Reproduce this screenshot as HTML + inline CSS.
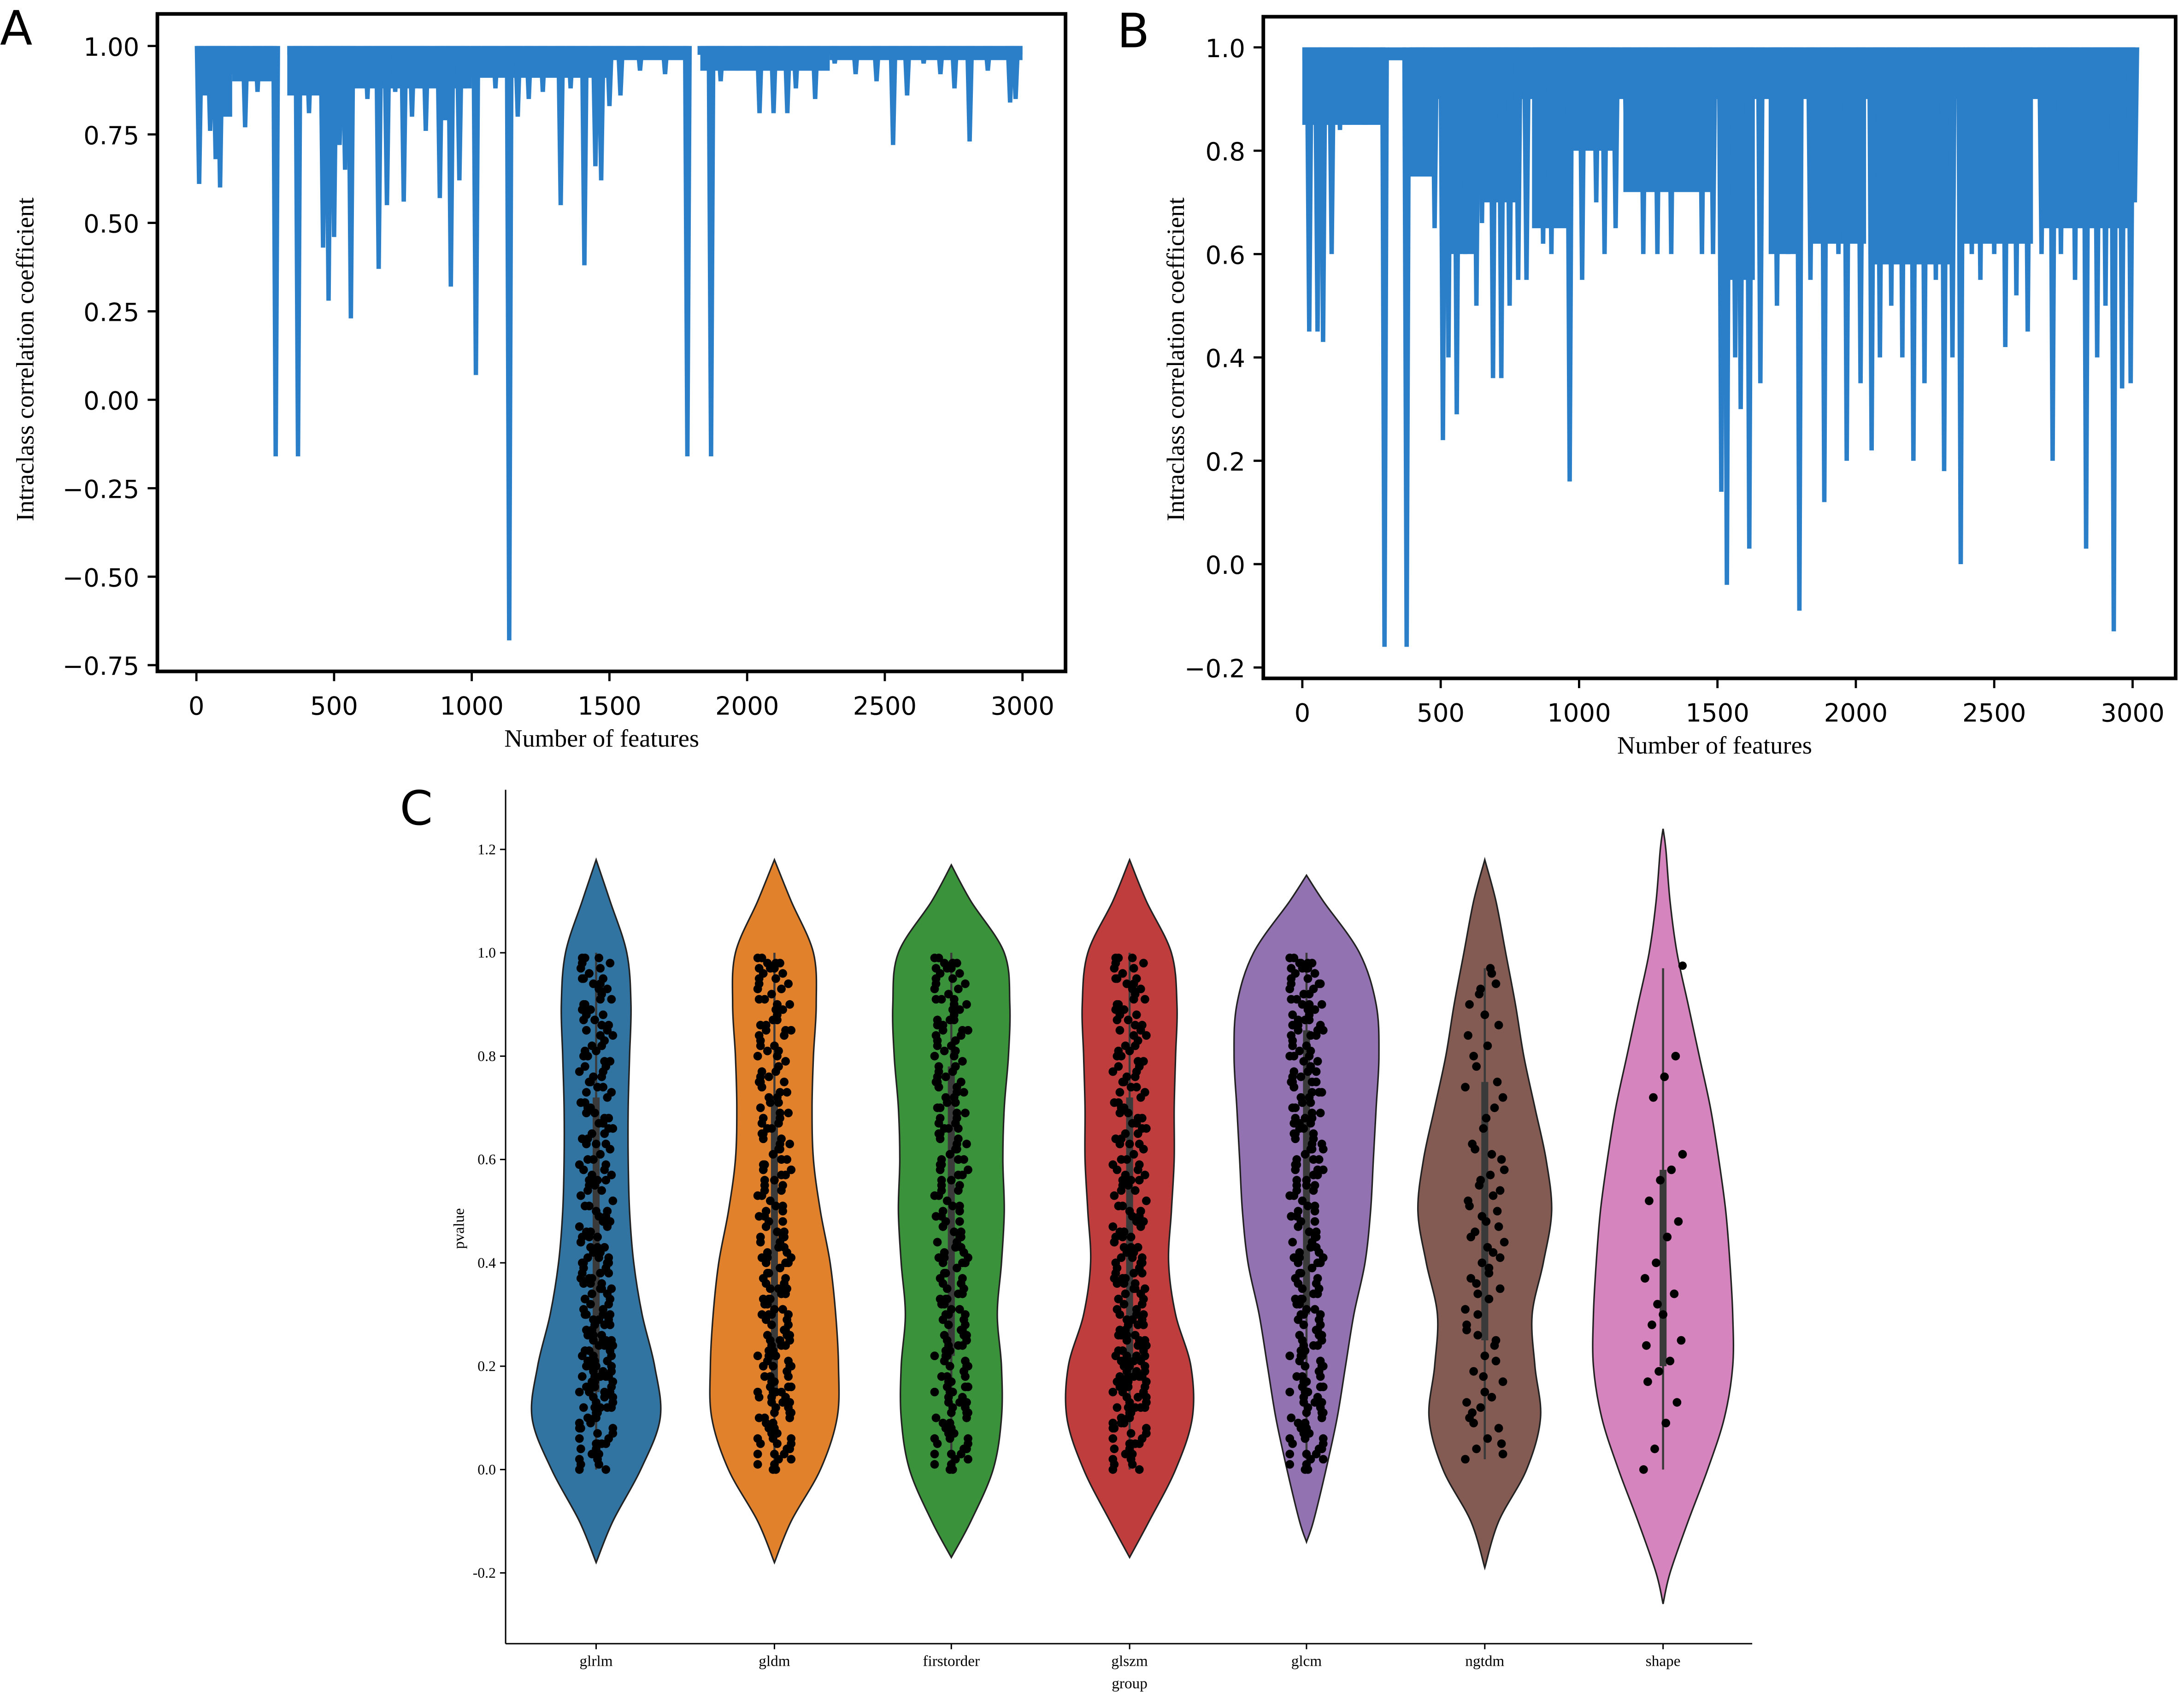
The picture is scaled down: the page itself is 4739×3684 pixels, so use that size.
<!DOCTYPE html>
<html><head><meta charset="utf-8"><style>
html,body{margin:0;padding:0;background:#fff;}
svg{display:block;}
.tk{font-family:"DejaVu Sans","Liberation Sans",sans-serif;font-size:18px;fill:#000;}
.sr{font-family:"Liberation Serif",serif;fill:#000;}
</style></head><body>
<svg id="fig" xmlns="http://www.w3.org/2000/svg" width="4739" height="3684" viewBox="0 0 1568 1219" preserveAspectRatio="none">
<rect x="0" y="0" width="1568" height="1219" fill="#fff"/>
<g id="pA"></g>
<g id="pB"></g>
<g id="pC"></g>
<text x="0" y="32" class="tk" style="font-size:34px">A</text>
<text x="802" y="34" class="tk" style="font-size:34px">B</text>
<text x="287" y="592" class="tk" style="font-size:34px">C</text>
</svg>
<script>
// ---------- Panel A data ----------
const aBandStart=[0,330,1820];
const aBandEnd=[292,1790,3000];
const aRegStart=[0,60,130,330,560,1000,1500,1830,2300];
const aRegEnd=[60,130,280,560,1000,1500,1780,2300,3000];
const aRegVal=[0.86,0.8,0.9,0.86,0.88,0.91,0.96,0.93,0.96];
const aSpikeF=[10,50,70,86,126,177,222,258,288,369,409,460,480,500,520,540,561,621,662,692,722,753,783,813,833,884,904,924,955,975,1015,1056,1086,1136,1167,1207,1258,1323,1359,1409,1449,1470,1500,1540,1611,1702,1783,1869,1904,1965,2045,2096,2146,2177,2247,2318,2394,2470,2530,2581,2641,2702,2753,2808,2874,2955,2975];
const aSpikeV=[0.61,0.76,0.68,0.6,0.92,0.77,0.87,0.9,-0.16,-0.16,0.81,0.43,0.28,0.46,0.72,0.65,0.23,0.85,0.37,0.55,0.87,0.56,0.8,0.88,0.76,0.57,0.79,0.32,0.62,0.88,0.07,0.92,0.88,-0.68,0.8,0.85,0.87,0.55,0.88,0.38,0.66,0.62,0.83,0.86,0.93,0.92,-0.16,-0.16,0.9,0.93,0.81,0.81,0.81,0.88,0.85,0.95,0.92,0.9,0.72,0.86,0.95,0.92,0.88,0.73,0.93,0.84,0.85];
const aYTicks=[1.0,0.75,0.5,0.25,0.0,-0.25,-0.5,-0.75];
const aYLabels=["1.00","0.75","0.50","0.25","0.00","−0.25","−0.50","−0.75"];
const xTicks=[0,500,1000,1500,2000,2500,3000];
// ---------- Panel B data ----------
const bBandStart=[0,310,390];
const bBandEnd=[300,375,3010];
const bRegStart=[0,390,385,528,650,830,980,1160,1510,1685,1836,2062,2390,2665];
const bRegEnd=[300,3010,470,630,780,955,1130,1480,1635,1785,2037,2340,2640,2990];
const bRegVal=[0.85,0.9,0.75,0.6,0.7,0.65,0.8,0.72,0.55,0.6,0.62,0.58,0.62,0.65];
const bSpikeF=[25,55,75,106,136,166,226,297,377,428,478,508,528,558,589,629,649,689,719,749,780,810,850,870,900,931,966,1011,1062,1092,1132,1172,1232,1283,1333,1383,1444,1484,1514,1534,1564,1584,1615,1655,1715,1755,1796,1836,1886,1937,1967,2017,2057,2087,2128,2168,2208,2248,2289,2319,2349,2379,2419,2450,2500,2540,2580,2621,2671,2711,2741,2792,2832,2872,2902,2932,2962,2993,3008];
const bSpikeV=[0.45,0.45,0.43,0.6,0.84,0.85,0.85,-0.16,-0.16,0.9,0.65,0.24,0.4,0.29,0.6,0.5,0.66,0.36,0.36,0.5,0.55,0.55,0.66,0.62,0.6,0.66,0.16,0.55,0.7,0.6,0.65,0.75,0.6,0.6,0.6,0.75,0.6,0.6,0.14,-0.04,0.4,0.3,0.03,0.35,0.5,0.6,-0.09,0.55,0.12,0.6,0.2,0.35,0.22,0.4,0.5,0.4,0.2,0.35,0.55,0.18,0.4,0.0,0.6,0.55,0.6,0.42,0.52,0.45,0.6,0.2,0.6,0.55,0.03,0.4,0.5,-0.13,0.34,0.35,0.7];
const bYTicks=[1.0,0.8,0.6,0.4,0.2,0.0,-0.2];
const bYLabels=["1.0","0.8","0.6","0.4","0.2","0.0","−0.2"];
// ---------- Panel C data ----------
const groups=["glrlm","gldm","firstorder","glszm","glcm","ngtdm","shape"];
const colors=["#3274a1","#e1812c","#3a923a","#c03d3e","#9372b2","#845b53","#d684bd"];
const levels=[-0.2,-0.1,0,0.1,0.2,0.3,0.4,0.5,0.6,0.7,0.8,0.9,1.0,1.1,1.2];
const lowEnd=[-0.18,-0.18,-0.17,-0.17,-0.14,-0.19,-0.26];
const highEnd=[1.18,1.18,1.17,1.18,1.15,1.18,1.24];
const halfGlrlm=[0,12,32,46,42,33,27,24,23,23,24,25,22,10,0];
const halfGldm=[0,12,33,45,46,44,40,33,28,27,28,30,28,12,0];
const halfFirst=[0,14,30,36,36,33,36,38,37,38,41,42,38,14,0];
const halfGlszm=[0,14,33,45,44,33,28,30,32,32,33,34,30,12,0];
const halfGlcm=[0,5,14,22,28,34,42,46,48,50,52,50,38,12,0];
const halfNgtdm=[0,10,30,40,36,34,42,48,44,36,28,22,15,8,0];
const halfShape=[5,18,32,44,50,50,48,45,40,34,26,18,10,5,2];
const base1="02 05 08 10 12 14 15 17 18 20 21 23 25 26 28 30 31 33 35 36 38 40 42 44 45 47 50 52 55 57 60 62 65 68 70 72 75 78 80 83 85 88 90 92 95 97 99 01 04 07 09 11 13 16 19 22 24 27 29 32 34 37 39 41 43 46 48 51 54 58 61 64 67 71 74 77 81 84 87 91 94 98 03 06 09 12 15 18 21 24 27 30 33 36 39 42 45 49 53 56 59 63 66 69 73 76 79 82 86 89 93 96 00 10 14 16 19 23 26 31 35 38 41 44 02 08 11 13 17 20 25 28 34 40 46 50 56 63 70 79 88 95 99 05 12 18 22 29 37 43";
const base2="01 03 06 09 11 13 16 18 19 22 24 26 27 29 31 32 34 37 39 41 43 44 46 49 51 53 56 58 61 63 66 69 71 73 76 79 81 84 86 89 91 93 96 98 99 02 05 07 10 12 15 17 20 23 25 28 30 33 35 38 40 42 45 47 50 54 57 59 62 65 67 70 72 75 77 80 82 85 87 90 92 94 97 04 08 14 21 27 36 48 55 60 64 68 74 78 83 88 95 00 06 11 16 20 26 30 40 52 60 72 85 98 03 09 13 18 24 33 44 53 62 75 90 97 15 22 31 41";
const base3="00 04 07 12 16 19 23 27 32 36 40 45 49 54 58 63 67 71 76 80 84 89 93 97 02 06 10 14 18 22 26 30 34 38 43 47 51 56 60 65 69 74 78 82 87 91 95 99 01 05 09 13 17 21 25 29 33 37 41 46 50 55 59 64 68 73 77 81 86 90 94 98 03 08 11 15 20 24 28 35 42 48 57 66 75 85 96";
const ptsGlrlm=base1+" "+base3+" 05 10 15 20 25 30 35 40 12 18 24 08";
const ptsGldm=base2+" "+base3+" 10 15 20 25 30 35 45 05 14 22";
const ptsFirst=base2+" "+base3+" 60 66 70 74 78 83 87 91 95 98";
const ptsGlszm=base1+" "+base3+" 05 09 14 18 22 26 12 17 21";
const ptsGlcm=base2+" "+base3+" 60 65 70 75 80 84 88 92 95 97 99 55 62 68 73 79 86 90 94 98 58 67 77 87 96";
const ptsNgtdm="02 04 06 08 10 12 14 17 19 22 25 27 30 33 35 37 40 42 44 46 48 50 52 55 57 60 63 66 70 74 78 82 86 90 93 96 03 09 15 21 28 34 38 41 45 49 53 58 62 68 75 84 92 97 05 11 18 24 31 36 43 47 51 56 61 72 80 88 94 13 26 39 54";
const ptsShape="00 04 09 13 17 19 21 25 28 30 34 37 40 45 48 52 56 58 61 72 76 80 24 32";
const yTicksC=[1.2,1.0,0.8,0.6,0.4,0.2,0.0,-0.2];
const yLabelsC=["1.2","1.0","0.8","0.6","0.4","0.2","0.0","-0.2"];
const boxLo=[0.15,0.15,0.22,0.18,0.3,0.25,0.2];
const boxHi=[0.72,0.72,0.78,0.72,0.85,0.75,0.58];
const whisLo=[0.0,0.0,0.0,0.0,0.02,0.02,0.0];
const whisHi=[1.0,1.0,1.0,1.0,1.0,0.97,0.97];

const NS="http://www.w3.org/2000/svg";
function mk(parent,tag,attrs){const e=document.createElementNS(NS,tag);for(const k in attrs)e.setAttribute(k,attrs[k]);parent.appendChild(e);return e;}
const blue="#2a7fc8";

function linePanel(g,xf,yf,box,bandS,bandE,regS,regE,regV,spF,spV,yT,yL,tag){
  for(let i=0;i<bandS.length;i++){
    const r=mk(g,'rect',{x:xf(bandS[i]),y:yf(1.0),width:xf(bandE[i])-xf(bandS[i]),height:yf(0.975)-yf(1.0),fill:blue});
    
    
  }
  for(let i=0;i<regS.length;i++){
    const r=mk(g,'rect',{x:xf(regS[i]),y:yf(1.0),width:xf(regE[i])-xf(regS[i]),height:yf(regV[i])-yf(1.0),fill:blue});
    
    
  }
  for(let i=0;i<spF.length;i++){
    const f=spF[i],v=spV[i];
    const p=mk(g,'polygon',{points:`${xf(f-16)},${yf(1.0)} ${xf(f+16)},${yf(1.0)} ${xf(f+8)},${yf(v)} ${xf(f-8)},${yf(v)}`,fill:blue});
    
    
  }
  const fr=mk(g,'rect',{x:box[0],y:box[1],width:box[2]-box[0],height:box[3]-box[1],fill:'none',stroke:'#000','stroke-width':2.6});
  
  
  for(let i=0;i<yT.length;i++){
    const y=yf(yT[i]);
    mk(g,'line',{x1:box[0]-7,x2:box[0],y1:y,y2:y,stroke:'#000','stroke-width':1.6});
    const t=mk(g,'text',{x:box[0]-13,y:y+7,'text-anchor':'end',class:'tk'});
    t.textContent=yL[i];
    
    
  }
  for(let i=0;i<xTicks.length;i++){
    const x=xf(xTicks[i]);
    mk(g,'line',{x1:x,x2:x,y1:box[3],y2:box[3]+7,stroke:'#000','stroke-width':1.6});
    const t=mk(g,'text',{x:x,y:box[3]+31,'text-anchor':'middle',class:'tk'});
    t.textContent=xTicks[i];
    
    
  }
}
const xA=f=>141+f*0.1977, yA=v=>287-v*254;
const xB=f=>935+f*0.1987, yB=v=>405-v*371;
const gA=document.getElementById('pA'), gB=document.getElementById('pB'), gC=document.getElementById('pC');
linePanel(gA,xA,yA,[113,10,765,482],aBandStart,aBandEnd,aRegStart,aRegEnd,aRegVal,aSpikeF,aSpikeV,aYTicks,aYLabels,'panel-a');
linePanel(gB,xB,yB,[907,12,1562,487],bBandStart,bBandEnd,bRegStart,bRegEnd,bRegVal,bSpikeF,bSpikeV,bYTicks,bYLabels,'panel-b');
function label(g,x,y,txt,size,rot,name){
  const t=mk(g,'text',{x:x,y:y,'text-anchor':'middle',class:'sr','font-size':size});
  if(rot)t.setAttribute('transform',`rotate(-90 ${x} ${y})`);
  t.textContent=txt;
  
  
}
label(gA,24,258,'Intraclass correlation coefficient',18,true,'y-axis-title');
label(gA,432,536,'Number of features',18,false,'x-axis-title');
label(gB,850,258,'Intraclass correlation coefficient',18,true,'y-axis-title');
label(gB,1231,541,'Number of features',18,false,'x-axis-title');

// ---------- Panel C ----------
const yC=v=>1055-v*371;
const centers=[428,556,683,811,938,1066,1194];
const halves=[halfGlrlm,halfGldm,halfFirst,halfGlszm,halfGlcm,halfNgtdm,halfShape];
const pts=[ptsGlrlm,ptsGldm,ptsFirst,ptsGlszm,ptsGlcm,ptsNgtdm,ptsShape];
function smooth(p){let d=`M${p[0][0]},${p[0][1]}`;for(let i=0;i<p.length-1;i++){const p0=p[Math.max(0,i-1)],p1=p[i],p2=p[i+1],p3=p[Math.min(p.length-1,i+2)];
 d+=` C${p1[0]+(p2[0]-p0[0])/6},${p1[1]+(p2[1]-p0[1])/6} ${p2[0]-(p3[0]-p1[0])/6},${p2[1]-(p3[1]-p1[1])/6} ${p2[0]},${p2[1]}`;}return d;}
for(let k=0;k<groups.length;k++){
  const cx=centers[k],h=halves[k];
  const prof=[[lowEnd[k],0]];
  for(let i=0;i<levels.length;i++){if(levels[i]>lowEnd[k]+0.02&&levels[i]<highEnd[k]-0.02)prof.push([levels[i],h[i]]);}
  prof.push([highEnd[k],0]);
  const right=prof.map(p=>[cx+p[1],yC(p[0])]);
  const left=prof.slice().reverse().map(p=>[cx-p[1],yC(p[0])]);
  const d=smooth(right)+' '+smooth(left).replace('M','L')+' Z';
  const v=mk(gC,'path',{d:d,fill:colors[k],stroke:'#222','stroke-width':1.1});
  
  
  mk(gC,'line',{x1:cx,x2:cx,y1:yC(whisLo[k]),y2:yC(whisHi[k]),stroke:'#3a3a3a','stroke-width':1.5});
  mk(gC,'rect',{x:cx-2.5,y:yC(boxHi[k]),width:5,height:yC(boxLo[k])-yC(boxHi[k]),fill:'#3a3a3a'});
  const vals=pts[k].trim().split(/\s+/).map(s=>parseInt(s,10)/100);
  const spread=k>=5?14:12;
  vals.forEach((val,i)=>{
    const jx=((i*37)%(2*spread+1))-spread;
    const c=mk(gC,'circle',{cx:cx+jx,cy:yC(val),r:3.1,fill:'#000'});
    
    
  });
  const t=mk(gC,'text',{x:cx,y:1196,'text-anchor':'middle',class:'sr','font-size':11});
  t.textContent=groups[k];
  
  
  mk(gC,'line',{x1:cx,x2:cx,y1:1180,y2:1184,stroke:'#000','stroke-width':1});
}
const sh=mk(gC,'circle',{cx:1208,cy:yC(0.975),r:3,fill:'#000'});


mk(gC,'line',{x1:363,x2:363,y1:567,y2:1180,stroke:'#000','stroke-width':1});
mk(gC,'line',{x1:363,x2:1258,y1:1180,y2:1180,stroke:'#000','stroke-width':1});
for(let i=0;i<yTicksC.length;i++){
  const y=yC(yTicksC[i]);
  mk(gC,'line',{x1:359,x2:363,y1:y,y2:y,stroke:'#000','stroke-width':1});
  const t=mk(gC,'text',{x:356,y:y+3.5,'text-anchor':'end',class:'sr','font-size':10.5});
  t.textContent=yLabelsC[i];
  
  
}
label(gC,333,882,'pvalue',11,true,'y-axis-title');
label(gC,811,1212,'group',11,false,'x-axis-title');
</script>
</body></html>
